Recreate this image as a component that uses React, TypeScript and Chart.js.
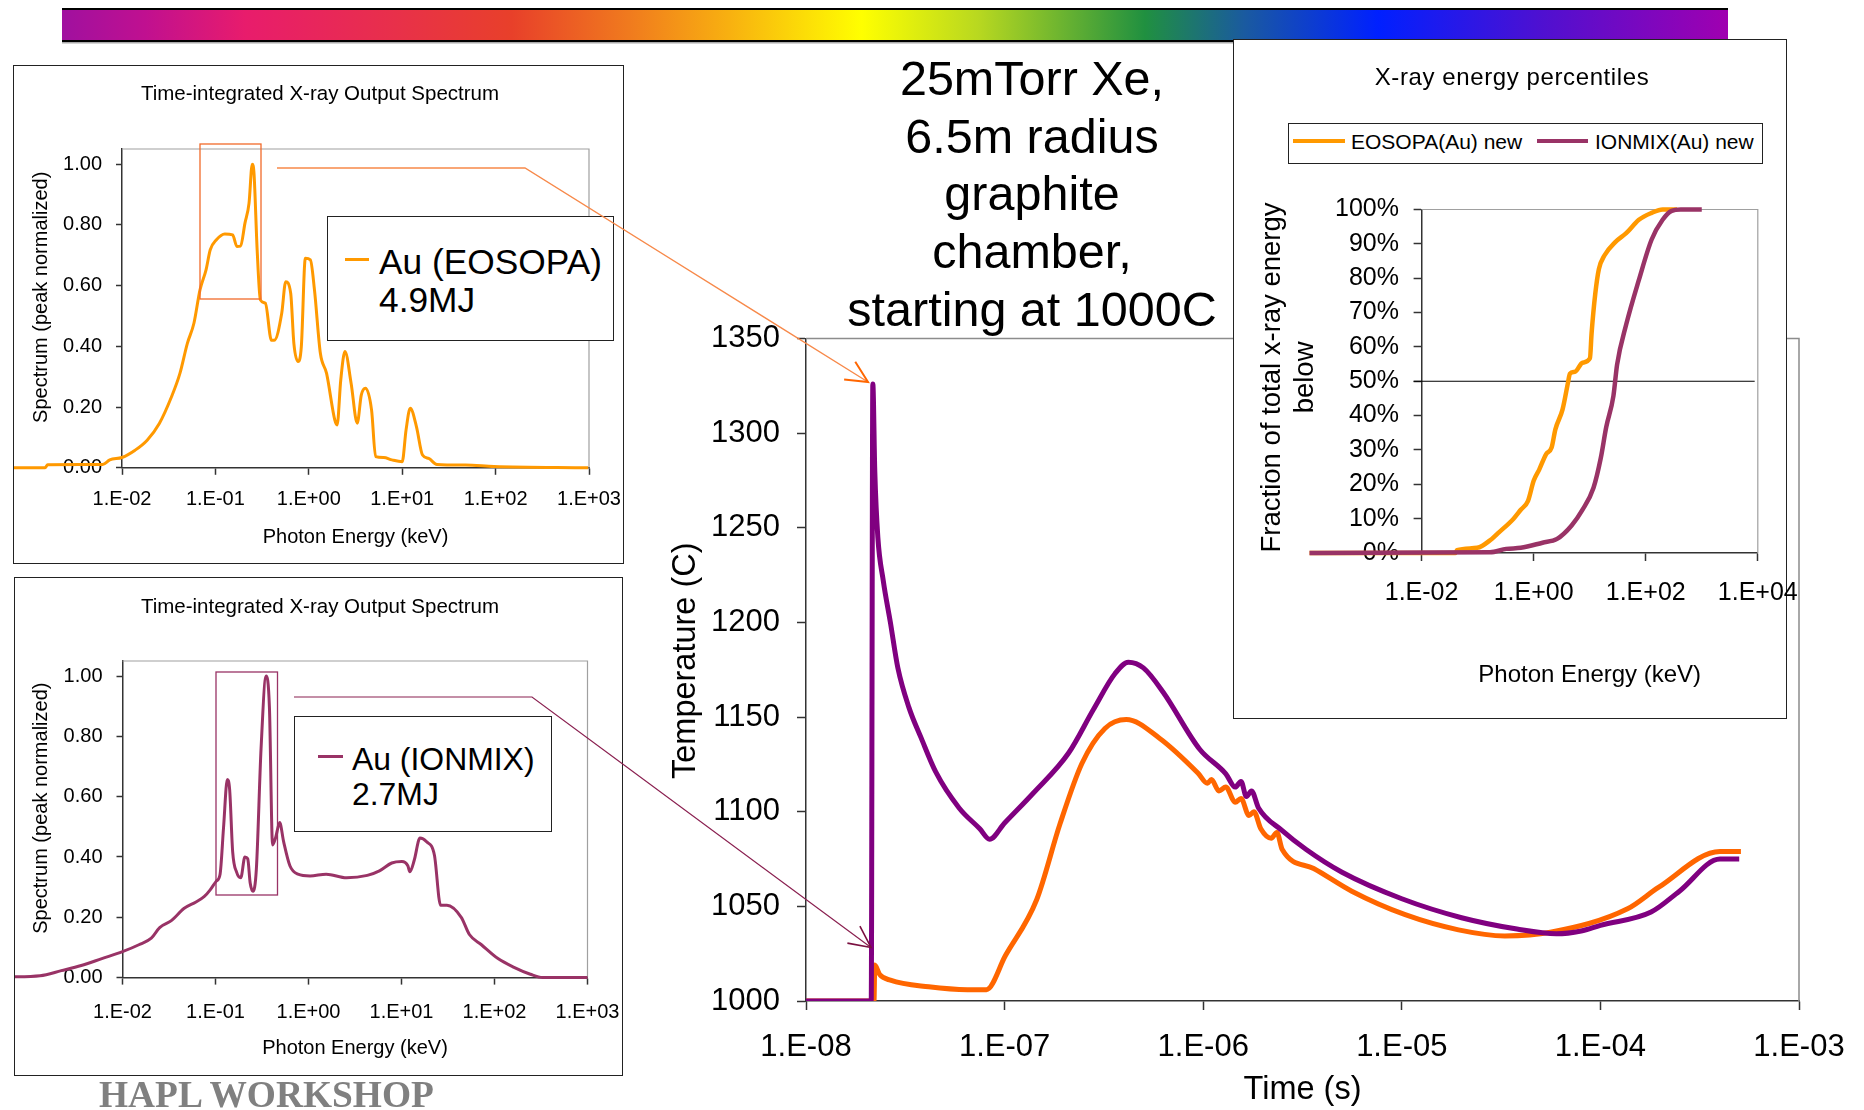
import React, { useEffect, useRef } from "react";
import { Chart, registerables } from "chart.js";

Chart.register(...registerables);

const SANS = '"Liberation Sans", Arial, Helvetica, sans-serif';
const SERIF = '"Liberation Serif", "Times New Roman", serif';

// ---------------- DATA ----------------
// Top-left: Au (EOSOPA) spectrum, photon energy (keV) vs peak-normalized spectrum
const eosopaSpecEnergy = [6.0e-4, 1.5e-3, 1.6e-3, 6.2e-3, 7.4e-3, 0.010, 0.0138, 0.0186, 0.0251, 0.0339, 0.0417, 0.0501, 0.0589, 0.0684, 0.0794, 0.0881, 0.102, 0.126, 0.153, 0.170, 0.186, 0.207, 0.229, 0.248, 0.259, 0.280, 0.303, 0.343, 0.398, 0.427, 0.513, 0.566, 0.640, 0.692, 0.767, 0.832, 0.918, 1.04, 1.15, 1.33, 1.55, 1.90, 2.01, 2.20, 2.44, 2.84, 3.30, 3.65, 4.04, 4.70, 5.19, 6.35, 7.76, 10.0, 11.0, 12.2, 14.2, 16.5, 19.2, 23.5, 47.5, 96, 980];
const eosopaSpecValue = [0.0, 0.0, 0.01, 0.011, 0.026, 0.034, 0.058, 0.091, 0.146, 0.234, 0.311, 0.41, 0.476, 0.586, 0.652, 0.718, 0.75, 0.77, 0.767, 0.729, 0.73, 0.805, 0.871, 1.0, 0.97, 0.717, 0.553, 0.542, 0.42, 0.42, 0.509, 0.613, 0.575, 0.41, 0.35, 0.40, 0.69, 0.685, 0.586, 0.377, 0.311, 0.157, 0.141, 0.29, 0.383, 0.278, 0.147, 0.24, 0.262, 0.19, 0.037, 0.034, 0.026, 0.02, 0.125, 0.196, 0.136, 0.042, 0.031, 0.011, 0.009, 0.004, 0.0];

// Bottom-left: Au (IONMIX) spectrum
const ionmixSpecEnergy = [5.9e-4, 1.3e-3, 2.2e-3, 3.6e-3, 6.0e-3, 0.010, 0.015, 0.0204, 0.0251, 0.0335, 0.0457, 0.0617, 0.0759, 0.0877, 0.102, 0.112, 0.122, 0.134, 0.142, 0.153, 0.169, 0.187, 0.207, 0.222, 0.236, 0.253, 0.275, 0.309, 0.350, 0.380, 0.411, 0.442, 0.490, 0.540, 0.631, 0.771, 1.04, 1.55, 2.57, 4.29, 5.79, 7.85, 10.1, 11.7, 12.3, 13.7, 15.8, 18.5, 22.6, 26.3, 30.8, 43.9, 53.7, 72.4, 109, 162, 243, 330, 1000];
const ionmixSpecValue = [0.002, 0.006, 0.023, 0.04, 0.063, 0.086, 0.109, 0.131, 0.166, 0.189, 0.229, 0.251, 0.269, 0.291, 0.32, 0.343, 0.497, 0.657, 0.623, 0.417, 0.349, 0.331, 0.40, 0.394, 0.314, 0.286, 0.36, 0.76, 1.0, 0.897, 0.44, 0.463, 0.514, 0.451, 0.371, 0.343, 0.337, 0.343, 0.331, 0.339, 0.354, 0.38, 0.385, 0.371, 0.351, 0.389, 0.463, 0.451, 0.406, 0.24, 0.24, 0.20, 0.143, 0.109, 0.063, 0.034, 0.011, 0.0, 0.0];

// Inset: cumulative fraction of x-ray energy (%)
const eosopaPctEnergy = [1e-4, 0.040, 0.043, 0.098, 0.179, 0.240, 0.438, 0.589, 0.794, 1.0, 1.25, 1.67, 2.09, 2.44, 3.28, 4.10, 4.43, 5.53, 7.46, 10.1, 10.8, 12.6, 14.6, 18.3, 28.6, 44.8, 75.5, 127, 200, 363];
const eosopaPctValue = [0, 0, 0.8, 1.5, 4.1, 6, 10, 12.6, 15.2, 21, 24.2, 28.8, 30.7, 36, 41.8, 49.6, 52.2, 52.8, 55.4, 56.7, 63.9, 75.6, 82.7, 86.6, 90.5, 93.1, 97, 99, 100, 100];
const ionmixPctEnergy = [1e-4, 0.166, 0.324, 0.589, 1.44, 2.62, 4.76, 7.46, 11.7, 15.7, 19.7, 26.5, 30.8, 44.8, 75.5, 127, 200, 290, 421, 1000];
const ionmixPctValue = [0, 0.2, 1.2, 1.5, 3, 4.1, 8, 12.6, 19, 27.5, 36.6, 45.7, 54.8, 66.5, 79.5, 91.2, 97, 99.6, 100, 100];
const refPctEnergy = [7.2e-3, 8.8e3];
const refPctValue = [50, 50];

// Main: chamber wall temperature (C) vs time (s)
const ionmixTime = [1e-8, 2.13e-8, 2.17e-8, 2.22e-8, 2.3e-8, 2.45e-8, 2.66e-8, 2.9e-8, 3.3e-8, 3.8e-8, 4.5e-8, 5.9e-8, 7.5e-8, 8.4e-8, 1.0e-7, 1.4e-7, 2.1e-7, 2.8e-7, 3.6e-7, 4.2e-7, 5.0e-7, 6.3e-7, 9.6e-7, 1.3e-6, 1.45e-6, 1.55e-6, 1.65e-6, 1.75e-6, 1.9e-6, 2.5e-6, 3.3e-6, 5.0e-6, 1.0e-5, 2.0e-5, 3.8e-5, 6.0e-5, 8.0e-5, 1.0e-4, 1.8e-4, 2.5e-4, 4.0e-4, 5.0e-4];
const ionmixTemp = [1000, 1000, 1326, 1280, 1245, 1222, 1200, 1176, 1155, 1139, 1121, 1102, 1091, 1085.5, 1094, 1110, 1131, 1154, 1173, 1179, 1176, 1163, 1133, 1120, 1113, 1116, 1108, 1111, 1102, 1090, 1080, 1068, 1054, 1044, 1038, 1035.5, 1037, 1040, 1047, 1058, 1075, 1075];
const eosopaTime = [1e-8, 2.2e-8, 2.22e-8, 2.35e-8, 2.66e-8, 4.15e-8, 6.5e-8, 8.1e-8, 1.01e-7, 1.45e-7, 1.9e-7, 2.45e-7, 3.2e-7, 4.1e-7, 6.0e-7, 9.4e-7, 1.05e-6, 1.1e-6, 1.2e-6, 1.3e-6, 1.45e-6, 1.55e-6, 1.7e-6, 1.8e-6, 1.95e-6, 2.2e-6, 2.35e-6, 2.5e-6, 3.6e-6, 5.6e-6, 1.04e-5, 1.93e-5, 3.3e-5, 5.6e-5, 1.37e-4, 1.96e-4, 4.0e-4, 5.1e-4];
const eosopaTemp = [1000, 1000, 1019, 1014, 1011, 1007.5, 1006, 1006, 1024, 1053.5, 1093.5, 1125.5, 1144, 1148.7, 1139, 1120.5, 1115, 1117, 1111, 1113, 1105, 1107, 1098, 1100, 1091, 1086, 1089, 1080, 1070, 1058, 1045.6, 1037.6, 1034.4, 1036.3, 1048.7, 1060, 1079, 1079];

// Tick values
const spectrumXTicks = [1e-2, 1e-1, 1, 10, 100, 1000];
const spectrumYTicks = [0, 0.2, 0.4, 0.6, 0.8, 1.0];
const tempXTicks = [1e-8, 1e-7, 1e-6, 1e-5, 1e-4, 1e-3];
const tempYTicks = [1000, 1050, 1100, 1150, 1200, 1250, 1300, 1350];
const pctXTicks = [1e-2, 1, 100, 1e4];
const pctYTicks = [0, 10, 20, 30, 40, 50, 60, 70, 80, 90, 100];

const titleLines = ["25mTorr Xe,", "6.5m radius", "graphite", "chamber,", "starting at 1000C"];

// ---------------- HELPERS ----------------
const pts = (xs: number[], ys: number[]) => xs.map((x, i) => ({ x, y: ys[i] }));
const expLabel = (v: number) => {
  const e = Math.round(Math.log10(v));
  return `1.E${e < 0 ? "-" : "+"}${String(Math.abs(e)).padStart(2, "0")}`;
};

type Spec = {
  left: number; top: number; width: number; height: number;
  plot: { left: number; top: number; right: number; bottom: number };
  datasets: any[];
  xMin: number; xMax: number; xTicks: number[];
  yMin: number; yMax: number; yTicks: number[]; yFmt: (v: number) => string;
  tickFont: number;
  xTickLen: number; xTickPad: number; yTickLen: number; yTickPad: number;
  xTitle: string; xTitleFont: number; xTitlePad: number;
  yTitle: string | string[]; yTitleFont: number; yTitlePad: number;
  axisColor: string; axisWidth: number; frameColor: string; frameWidth: number;
};

function buildConfig(s: Spec): any {
  const frame = {
    id: "frame",
    beforeDatasetsDraw(chart: any) {
      const { ctx, chartArea: a } = chart;
      ctx.save();
      ctx.strokeStyle = s.frameColor;
      ctx.lineWidth = s.frameWidth;
      ctx.beginPath();
      ctx.moveTo(a.left, a.top);
      ctx.lineTo(a.right, a.top);
      ctx.lineTo(a.right, a.bottom);
      ctx.stroke();
      ctx.restore();
    },
  };
  return {
    type: "line",
    data: { datasets: s.datasets },
    options: {
      animation: false,
      responsive: false,
      maintainAspectRatio: false,
      devicePixelRatio: 1,
      events: [],
      layout: {
        padding: {
          left: 0,
          top: s.plot.top - s.top,
          right: s.left + s.width - s.plot.right,
          bottom: 0,
        },
      },
      plugins: { legend: { display: false }, title: { display: false }, tooltip: { enabled: false } },
      elements: { point: { radius: 0 }, line: { tension: 0 } },
      scales: {
        x: {
          type: "logarithmic",
          position: "bottom",
          bounds: "data",
          afterDataLimits: (sc: any) => { sc.min = s.xMin; sc.max = s.xMax; },
          afterBuildTicks: (sc: any) => { sc.ticks = s.xTicks.map((v) => ({ value: v })); },
          afterFit: (sc: any) => { sc.height = s.top + s.height - s.plot.bottom; },
          grid: { display: true, drawOnChartArea: false, drawTicks: true, tickLength: s.xTickLen, tickColor: s.axisColor, tickWidth: s.axisWidth, color: s.axisColor },
          border: { display: true, color: s.axisColor, width: s.axisWidth },
          ticks: { font: { family: SANS, size: s.tickFont }, color: "#000", padding: s.xTickPad, maxRotation: 0, minRotation: 0, autoSkip: false, callback: (v: any) => expLabel(Number(v)) },
          title: { display: true, text: s.xTitle, color: "#000", font: { family: SANS, size: s.xTitleFont }, padding: { top: 0, bottom: s.xTitlePad } },
        },
        y: {
          type: "linear",
          position: "left",
          bounds: "data",
          min: s.yMin,
          max: s.yMax,
          afterBuildTicks: (sc: any) => { sc.ticks = s.yTicks.map((v) => ({ value: v })); },
          afterFit: (sc: any) => { sc.width = s.plot.left - s.left; },
          grid: { display: true, drawOnChartArea: false, drawTicks: true, tickLength: s.yTickLen, tickColor: s.axisColor, tickWidth: s.axisWidth, color: s.axisColor },
          border: { display: true, color: s.axisColor, width: s.axisWidth },
          ticks: { font: { family: SANS, size: s.tickFont }, color: "#000", padding: s.yTickPad, autoSkip: false, callback: (v: any) => s.yFmt(Number(v)) },
          title: { display: true, text: s.yTitle, color: "#000", font: { family: SANS, size: s.yTitleFont }, padding: { top: s.yTitlePad, bottom: 0 } },
        },
      },
    },
    plugins: [frame],
  };
}

function ChartCanvas({ spec }: { spec: Spec }) {
  const ref = useRef<HTMLCanvasElement>(null);
  useEffect(() => {
    const chart = new Chart(ref.current as HTMLCanvasElement, buildConfig(spec));
    return () => chart.destroy();
  }, []);
  return (
    <canvas
      ref={ref}
      width={spec.width}
      height={spec.height}
      style={{ position: "absolute", left: spec.left, top: spec.top, width: spec.width, height: spec.height }}
    />
  );
}

function Txt(props: { x: number; y: number; size: number; text: string; align?: "left" | "center"; color?: string; family?: string; weight?: number; ls?: number }) {
  const { x, y, size, text, align = "left", color = "#000", family = SANS, weight = 400, ls = 0 } = props;
  const h = size * 1.2;
  const style: any = {
    position: "absolute", top: y - h / 2, height: h, lineHeight: `${h}px`, fontSize: size,
    fontFamily: family, fontWeight: weight, color, whiteSpace: "pre", letterSpacing: ls,
  };
  if (align === "center") Object.assign(style, { left: x - 600, width: 1200, textAlign: "center" });
  else Object.assign(style, { left: x });
  return <div style={style}>{text}</div>;
}

function arrowHead(fx: number, fy: number, tx: number, ty: number, len = 24, ang = 26) {
  const a = Math.atan2(ty - fy, tx - fx);
  const r = (ang * Math.PI) / 180;
  const p1 = [tx - len * Math.cos(a - r), ty - len * Math.sin(a - r)];
  const p2 = [tx - len * Math.cos(a + r), ty - len * Math.sin(a + r)];
  return `${p1[0]},${p1[1]} ${tx},${ty} ${p2[0]},${p2[1]}`;
}

// ---------------- CHART SPECS ----------------
const ORANGE_SPEC = "#ff9900";
const PLUM = "#993366";
const MAIN_ORANGE = "#ff6600";
const MAIN_PURPLE = "#800080";

const lineDs = (data: any[], color: string, width: number, clip: boolean) => ({
  data, borderColor: color, borderWidth: width, pointRadius: 0, fill: false,
  clip: clip ? undefined : false, borderJoinStyle: "round", cubicInterpolationMode: "monotone",
});

const specCommon = {
  xMin: 1e-2, xMax: 1e3, xTicks: spectrumXTicks,
  yMin: 0, yMax: 1.05, yTicks: spectrumYTicks, yFmt: (v: number) => v.toFixed(2),
  tickFont: 20, xTickLen: 7, yTickLen: 6, yTickPad: 14,
  xTitle: "Photon Energy (keV)", xTitleFont: 20,
  yTitle: "    Spectrum (peak normalized)", yTitleFont: 20,
  axisColor: "#333333", axisWidth: 1.5, frameColor: "#a0a0a0", frameWidth: 1.2,
};

const eosopaSpecChart: Spec = {
  ...specCommon,
  left: 14, top: 66, width: 631, height: 497,
  plot: { left: 122, top: 149, right: 589, bottom: 467.8 },
  xTickPad: 13, xTitlePad: 14, yTitlePad: 15,
  datasets: [lineDs(pts(eosopaSpecEnergy, eosopaSpecValue), ORANGE_SPEC, 3, false)],
};

const ionmixSpecChart: Spec = {
  ...specCommon,
  left: 15, top: 578, width: 630, height: 497,
  plot: { left: 122.5, top: 661, right: 587.5, bottom: 977.6 },
  xTickPad: 16, xTitlePad: 14.3, yTitlePad: 14,
  datasets: [lineDs(pts(ionmixSpecEnergy, ionmixSpecValue), PLUM, 3, false)],
};

const tempChart: Spec = {
  left: 660, top: 300, width: 1240, height: 810,
  plot: { left: 806, top: 338.5, right: 1799, bottom: 1001 },
  xMin: 1e-8, xMax: 1e-3, xTicks: tempXTicks,
  yMin: 1000, yMax: 1350, yTicks: tempYTicks, yFmt: (v: number) => String(Math.round(v)),
  tickFont: 31, xTickLen: 9, xTickPad: 19, yTickLen: 9, yTickPad: 17,
  xTitle: "Time (s)", xTitleFont: 32.5, xTitlePad: 0,
  yTitle: "  Temperature (C)", yTitleFont: 32.5, yTitlePad: 7,
  axisColor: "#333333", axisWidth: 1.5, frameColor: "#8c8c8c", frameWidth: 1.5,
  datasets: [
    lineDs(pts(ionmixTime, ionmixTemp), MAIN_PURPLE, 5, true),
    lineDs(pts(eosopaTime, eosopaTemp), MAIN_ORANGE, 5, true),
  ],
};

const pctChart: Spec = {
  left: 1234, top: 40, width: 600, height: 678,
  plot: { left: 1421.6, top: 209.5, right: 1757.8, bottom: 553 },
  xMin: 1e-2, xMax: 1e4, xTicks: pctXTicks,
  yMin: 0, yMax: 100, yTicks: pctYTicks, yFmt: (v: number) => `${Math.round(v)}%`,
  tickFont: 25, xTickLen: 8, xTickPad: 17, yTickLen: 8, yTickPad: 14.6,
  xTitle: "Photon Energy (keV)", xTitleFont: 24, xTitlePad: 28.6,
  yTitle: [" Fraction of total x-ray energy", " below"], yTitleFont: 27.5, yTitlePad: 22,
  axisColor: "#333333", axisWidth: 1.5, frameColor: "#a0a0a0", frameWidth: 1.2,
  datasets: [
    lineDs(pts(ionmixPctEnergy, ionmixPctValue), PLUM, 4.5, false),
    lineDs(pts(eosopaPctEnergy, eosopaPctValue), ORANGE_SPEC, 4.5, false),
    { data: pts(refPctEnergy, refPctValue), borderColor: "#000000", borderWidth: 1, pointRadius: 0, fill: false, clip: false },
  ],
};

// ---------------- APP ----------------
export default function App() {
  const box = (l: number, t: number, r: number, b: number, extra: any = {}) => (
    <div style={{ position: "absolute", left: l, top: t, width: r - l, height: b - t, boxSizing: "border-box", border: "1.5px solid #222", background: "#fff", ...extra }} />
  );
  return (
    <div style={{ position: "absolute", left: 0, top: 0, width: 1864, height: 1110, background: "#fff", overflow: "hidden" }}>
      {/* rainbow bar */}
      <div
        style={{
          position: "absolute", left: 62, top: 8, width: 1666, height: 34, boxSizing: "border-box",
          borderTop: "2px solid #000", borderBottom: "2.5px solid #000", boxShadow: "0 1.5px 0 #aaa",
          background:
            "linear-gradient(to right, #a0109f 0%, #c01090 5%, #e81c6c 11%, #e8304a 20%, #e8402a 27%, #f07a1e 34%, #f8b010 40%, #ffff00 48%, #b8d820 55%, #209040 65%, #1a5aa0 71%, #0020ff 79%, #5010d0 89%, #a000b0 100%)",
        }}
      />

      {/* left spectrum boxes */}
      {box(13, 65, 624, 564)}
      {box(14, 577, 623, 1076)}
      <ChartCanvas spec={eosopaSpecChart} />
      <ChartCanvas spec={ionmixSpecChart} />
      <Txt x={320} y={93} size={20.5} text="Time-integrated X-ray Output Spectrum" align="center" />
      <Txt x={320} y={606} size={20.5} text="Time-integrated X-ray Output Spectrum" align="center" />

      {/* spectrum legends */}
      {box(327, 216, 614, 341)}
      <div style={{ position: "absolute", left: 345, top: 258, width: 24, height: 2.5, background: ORANGE_SPEC }} />
      <Txt x={379} y={262} size={35.3} text="Au (EOSOPA)" />
      <Txt x={379} y={300} size={35.3} text="4.9MJ" />
      {box(294, 716, 552, 832)}
      <div style={{ position: "absolute", left: 318, top: 755, width: 25, height: 2.5, background: PLUM }} />
      <Txt x={352} y={759} size={31.9} text="Au (IONMIX)" />
      <Txt x={352} y={794} size={31.9} text="2.7MJ" />

      {/* main temperature chart */}
      <ChartCanvas spec={tempChart} />

      {/* inset percentile chart */}
      {box(1233, 39, 1787, 719)}
      <ChartCanvas spec={pctChart} />
      <Txt x={1512} y={77} size={24} text="X-ray energy percentiles" align="center" ls={0.6} />
      {box(1288, 123, 1763, 164)}
      <div style={{ position: "absolute", left: 1293, top: 139, width: 52, height: 4, background: ORANGE_SPEC }} />
      <Txt x={1351} y={142} size={21} text="EOSOPA(Au) new" />
      <div style={{ position: "absolute", left: 1537, top: 139, width: 51, height: 4, background: PLUM }} />
      <Txt x={1595} y={142} size={21} text="IONMIX(Au) new" />

      {/* main title */}
      {titleLines.map((t, i) => (
        <Txt key={i} x={1032} y={78 + i * 57.75} size={48.5} text={t} align="center" />
      ))}

      {/* footer */}
      <Txt x={99} y={1095} size={37.4} text="HAPL WORKSHOP" family={SERIF} weight={700} color="#808080" />

      {/* zoom boxes and connectors */}
      <svg style={{ position: "absolute", left: 0, top: 0 }} width={1864} height={1110}>
        <rect x={200} y={144} width={61} height={155} fill="none" stroke="#f26a2a" strokeWidth={1.3} />
        <polyline points="277,168 525,168 868,382" fill="none" stroke="#f7894a" strokeWidth={1.3} />
        <polyline points={arrowHead(525, 168, 868, 382)} fill="none" stroke="#ff6600" strokeWidth={2} />
        <rect x={216} y={672} width={61.5} height={223} fill="none" stroke={PLUM} strokeWidth={1.3} />
        <polyline points="294,697 532,697 871,947.5" fill="none" stroke="#8a2050" strokeWidth={1.2} />
        <polyline points={arrowHead(532, 697, 871, 947.5)} fill="none" stroke="#7a1040" strokeWidth={1.6} />
      </svg>
    </div>
  );
}
